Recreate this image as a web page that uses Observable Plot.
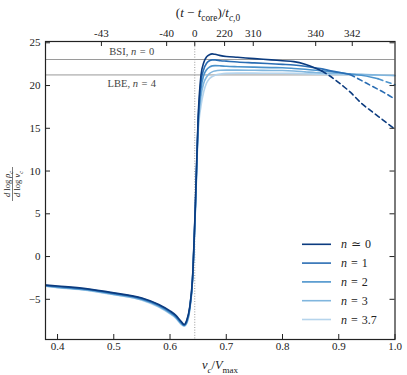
<!DOCTYPE html>
<html><head><meta charset="utf-8">
<script src="https://cdn.jsdelivr.net/npm/d3@7"></script>
<script src="https://cdn.jsdelivr.net/npm/@observablehq/plot@0.6"></script>
<style>body{margin:0;background:#fff} svg{display:block} svg text{font-family:"Liberation Serif","Times New Roman","DejaVu Serif",serif !important;}</style>
</head><body><div id="chart"></div>
<script>
// ---- data ----
const xGrid = [0.38,0.40,0.45,0.50,0.55,0.58,0.60,0.61,0.62,0.625,0.63,0.635,0.64,0.645,0.65,0.655,0.66,0.665,0.67,0.675,0.68,0.69,0.70,0.72,0.75,0.78,0.80,0.82,0.84,0.86,0.87,0.88,0.90,0.92,0.94,0.96,0.97,0.98,1.00];
const yN0  = [-3.34,-3.45,-3.75,-4.25,-4.85,-5.6,-6.35,-6.85,-7.6,-7.95,-7.4,-5.9,-2.5,6.0,16.3,21.2,22.7,23.35,23.6,23.7,23.65,23.5,23.4,23.3,23.15,23.0,22.9,22.8,22.5,22.0,21.7,21.3,20.35,19.25,17.95,16.9,16.4,15.9,14.9];
const yN1  = [-3.38,-3.5,-3.8,-4.3,-4.92,-5.68,-6.45,-6.95,-7.7,-8.0,-7.5,-6.0,-2.6,5.8,15.9,20.4,21.9,22.6,22.9,23.0,23.0,22.9,22.85,22.75,22.65,22.55,22.48,22.4,22.25,22.05,21.95,21.8,21.55,21.3,20.6,19.9,19.55,19.2,18.4];
const yN2  = [-3.42,-3.55,-3.85,-4.36,-5.0,-5.76,-6.55,-7.05,-7.8,-8.05,-7.6,-6.1,-2.7,5.6,15.5,19.6,21.2,21.85,22.15,22.3,22.33,22.3,22.25,22.2,22.15,22.1,22.08,22.0,21.9,21.78,21.72,21.66,21.52,21.35,21.2,20.95,20.8,20.55,20.1];
const yN3  = [-3.45,-3.6,-3.9,-4.42,-5.06,-5.84,-6.63,-7.13,-7.88,-8.1,-7.7,-6.2,-2.8,5.4,15.0,18.7,20.3,21.0,21.4,21.6,21.7,21.78,21.8,21.8,21.78,21.76,21.75,21.7,21.6,21.5,21.47,21.44,21.4,21.35,21.3,21.25,21.23,21.2,21.15];
const yN37 = [-3.48,-3.63,-3.93,-4.46,-5.1,-5.9,-6.7,-7.2,-7.95,-8.15,-7.8,-6.3,-2.9,5.2,14.5,17.6,19.3,20.3,20.8,21.05,21.2,21.35,21.42,21.45,21.45,21.44,21.44,21.42,21.38,21.34,21.32,21.3,21.28,21.26,21.24,21.22,21.21,21.2,21.2];
const seriesKeys = ["n0","n1","n2","n3","n37"];
const seriesValues = [yN0, yN1, yN2, yN3, yN37];
const seriesRel = ["≃","=","=","=","="];
const seriesNum = ["0","1","2","3","3.7"];
const seriesColors = ["#0b3b7f","#2a6db3","#4b93cc","#80b6de","#b5d4ec"];
const dashStart = [0.87, 0.92, 0.97, null, null];
const refLevels = [23.05, 21.25];
const refNames = ["BSI", "LBE"];
const refN = ["0", "4"];
const refColors = ["#9a9a9a", "#c4c4c4"];
const coreX = 0.644;
const xTicks = [0.4,0.5,0.6,0.7,0.8,0.9,1.0];
const yTicks = [-5,0,5,10,15,20,25];
const topTicks = [0.478,0.594,0.644,0.697,0.748,0.859,0.924];
const topTickLabels = ["-43","-40","0","220","310","340","342"];

// ---- layout ----
const W = 407, H = 375, mL = 45, mR = 12.5, mT = 41, mB = 36;
const innerW = W - mL - mR, innerH = H - mT - mB, tickLen = 5;
const serif = "Liberation Serif";
const ink = "#222";

const rows = [];
[...seriesKeys.keys()].reverse().forEach(si => {
  xGrid.forEach((x, i) => {
    const ds = dashStart[si];
    const y = seriesValues[si][i];
    if (ds == null || x <= ds + 1e-9) rows.push({x, y, s: seriesKeys[si], part: "solid"});
    if (ds != null && x >= ds - 1e-9) rows.push({x, y, s: seriesKeys[si], part: "dashed"});
  });
});

const plot = Plot.plot({
  width: W, height: H,
  marginLeft: mL, marginRight: mR, marginTop: mT, marginBottom: mB,
  style: {fontFamily: serif, fontSize: "11px", color: ink, background: "#fff"},
  x: {domain: [0.3786, 1.0]},
  y: {domain: [-9.7, 25.15]},
  color: {domain: seriesKeys, range: seriesColors},
  marks: [
    Plot.ruleY([refLevels[0]], {stroke: refColors[0], strokeWidth: 1.1}),
    Plot.ruleY([refLevels[1]], {stroke: refColors[1], strokeWidth: 1.6}),
    Plot.ruleX([coreX], {stroke: "#9a9a9a", strokeWidth: 1, strokeDasharray: "1,1.6"}),
    Plot.line(rows.filter(d => d.part === "solid"), {x: "x", y: "y", z: "s", stroke: "s", strokeWidth: 1.6, curve: "monotone-x"}),
    Plot.line(rows.filter(d => d.part === "dashed"), {x: "x", y: "y", z: "s", stroke: "s", strokeWidth: 1.6, strokeDasharray: "5,3.6", curve: "monotone-x"}),
    Plot.frame({stroke: ink, strokeWidth: 1.2}),
    // inward ticks on all four sides
    Plot.tickX(xTicks, {x: d => d, insetTop: innerH - tickLen, stroke: ink, strokeWidth: 1}),
    Plot.tickX(topTicks, {x: d => d, insetBottom: innerH - tickLen, stroke: ink, strokeWidth: 1}),
    Plot.tickY(yTicks, {y: d => d, insetRight: innerW - tickLen, stroke: ink, strokeWidth: 1}),
    Plot.tickY(yTicks, {y: d => d, insetLeft: innerW - tickLen, stroke: ink, strokeWidth: 1}),
    Plot.axisX({anchor: "bottom", ticks: xTicks, tickSize: 0, tickPadding: 3, label: null, tickFormat: d => d.toFixed(1)}),
    Plot.axisX({anchor: "top", ticks: topTicks, tickSize: 0, tickPadding: 5, label: null, tickFormat: d => topTickLabels[topTicks.indexOf(d)]}),
    Plot.axisY({anchor: "left", ticks: yTicks, tickSize: 0, tickPadding: 5, label: null, tickFormat: d => (d < 0 ? "\u2212" + Math.abs(d) : String(d))})
  ]
});

document.getElementById("chart").append(plot);

// ---- math-style text helpers ----
const svg = d3.select(plot);
function mathText(g, x, y, parts, size, anchor, fill) {
  const t = g.append("text").attr("x", x).attr("y", y)
    .attr("text-anchor", anchor || "start").attr("font-size", size)
    .attr("fill", fill || ink).attr("xml:space", "preserve");
  let shift = 0;
  for (const p of parts) {
    const ts = t.append("tspan").text(p.t);
    if (p.i) ts.attr("font-style", "italic");
    const target = p.sub ? size * 0.3 : 0;
    if (target !== shift) { ts.attr("dy", target - shift); shift = target; }
    if (p.sub) ts.attr("font-size", size * 0.72);
  }
  return t;
}
const sx = plot.scale("x"), sy = plot.scale("y");
const g = svg.append("g");

// top axis title
mathText(g, 208, 17, [{t: "("}, {t: "t", i: true}, {t: " \u2212 "}, {t: "t", i: true}, {t: "core", sub: true}, {t: ")/"}, {t: "t", i: true}, {t: "c", i: true, sub: true}, {t: ",0", sub: true}], 13, "middle");
// bottom axis title
mathText(g, 220, 369, [{t: "v", i: true}, {t: "c", i: true, sub: true}, {t: "/"}, {t: "V", i: true}, {t: "max", sub: true}], 12.5, "middle");

// reference line labels
refNames.forEach((nm, i) => {
  mathText(g, sx.apply(0.533), sy.apply(refLevels[i]) + (i === 0 ? -3.5 : 12.5),
    [{t: nm + ", "}, {t: "n", i: true}, {t: "\u2004=\u2004" + refN[i]}], 10.5, "middle", "#444");
});

// y label: rotated fraction
const yl = g.append("g").attr("transform", "translate(12.5,184) rotate(-90)");
mathText(yl, 0, -2.5, [{t: "d", i: true}, {t: " log "}, {t: "\u03c1", i: true}, {t: "c", i: true, sub: true}], 8.5, "middle");
yl.append("line").attr("x1", -17).attr("x2", 17).attr("y1", 0).attr("y2", 0).attr("stroke", ink).attr("stroke-width", 0.6);
mathText(yl, 0, 7.5, [{t: "d", i: true}, {t: " log "}, {t: "v", i: true}, {t: "c", i: true, sub: true}], 8.5, "middle");

// legend
const lg = g.append("g");
seriesKeys.forEach((k, i) => {
  const y = 244.3 + i * 18.8;
  lg.append("line").attr("x1", 302).attr("x2", 331).attr("y1", y).attr("y2", y)
    .attr("stroke", seriesColors[i]).attr("stroke-width", 1.6);
  mathText(lg, 341, y + 4, [{t: "n", i: true}, {t: "\u2004" + seriesRel[i] + "\u2004" + seriesNum[i]}], 12, "start");
});
</script>
</body></html>
